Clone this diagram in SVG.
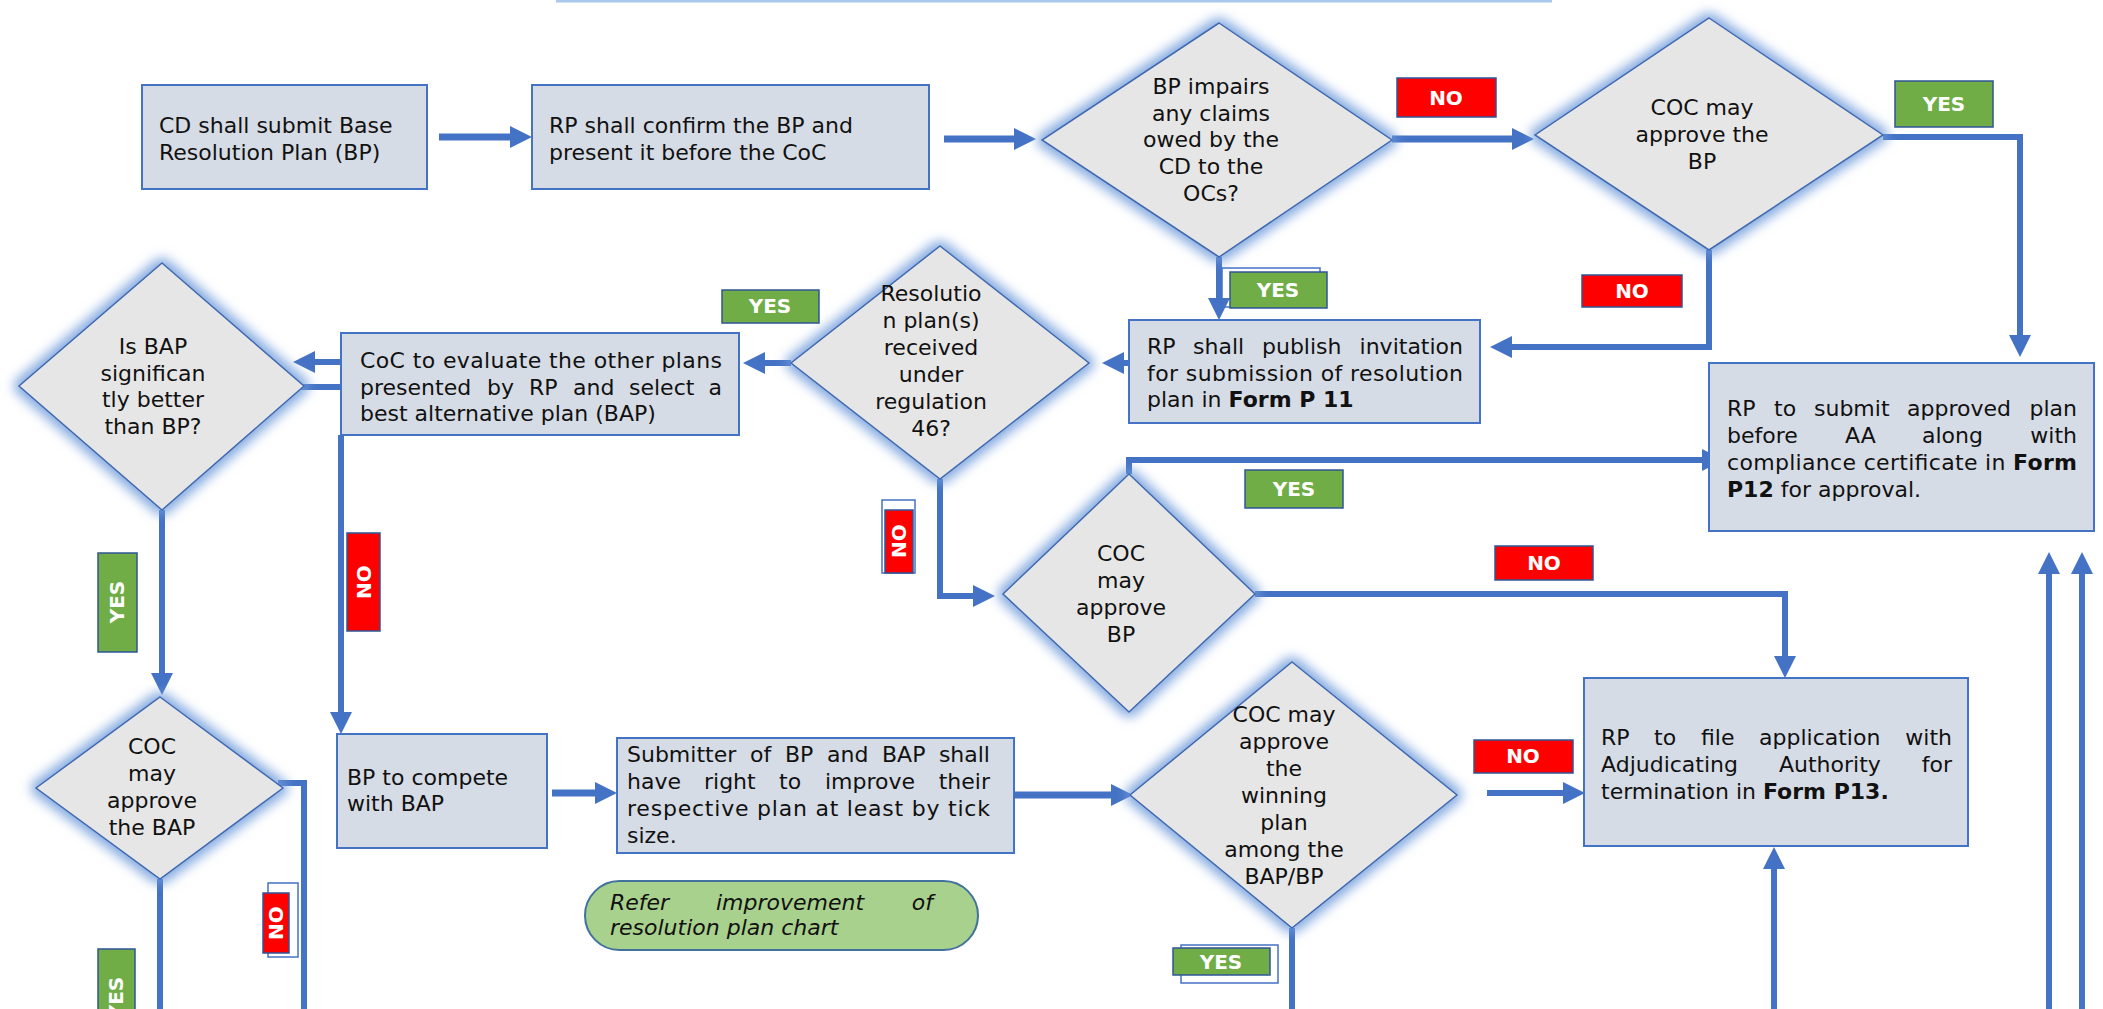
<svg xmlns="http://www.w3.org/2000/svg" width="2103" height="1009" viewBox="0 0 2103 1009">
<style>
.box{fill:#D6DCE5;stroke:#4472C4;stroke-width:2}
.dia{fill:#E7E6E6;stroke:#3F69B0;stroke-width:1.5}
.t{font-family:'DejaVu Sans',Verdana,sans-serif;font-size:22px;fill:#111}
.c{text-anchor:middle}
.e{text-anchor:end}
.b{font-weight:bold}
.i{font-style:italic}
.conn{fill:none;stroke:#4472C4;stroke-width:6}
.thick{stroke-width:7}
.arr{marker-end:url(#ah)}
.no{fill:#FF0000;stroke:#2F5597;stroke-width:1.5}
.yes{fill:#70AD47;stroke:#2F5597;stroke-width:1.5}
.ol{fill:none;stroke:#4472C4;stroke-width:1.5}
.lt{font-family:'DejaVu Sans',Verdana,sans-serif;font-size:20px;font-weight:bold;fill:#fff;text-anchor:middle}
</style>
<defs>
<marker id="ah" markerUnits="userSpaceOnUse" markerWidth="22" markerHeight="22" refX="0" refY="11" orient="auto" viewBox="0 0 22 22">
<path d="M0,0 L22,11 L0,22 z" fill="#4472C4"/>
</marker>
<filter id="glow" x="-25%" y="-25%" width="150%" height="150%">
<feMorphology in="SourceAlpha" operator="dilate" radius="4" result="d"/>
<feGaussianBlur in="d" stdDeviation="6" result="bl"/>
<feFlood flood-color="#6F9BDB" flood-opacity="0.85"/>
<feComposite in2="bl" operator="in" result="g"/>
<feMerge><feMergeNode in="g"/><feMergeNode in="SourceGraphic"/></feMerge>
</filter>
</defs>
<rect width="2103" height="1009" fill="#fff"/>
<line x1="556" y1="1" x2="1552" y2="1" stroke="#A9C8EC" stroke-width="3"/>

<g id="connectors">
<path class="conn thick arr" d="M439,137 L510,137"/>
<path class="conn thick arr" d="M944,139 L1014,139"/>
<path class="conn thick arr" d="M1392,139 L1512,139"/>
<path class="conn arr" d="M1883,137 H2020 V335"/>
<path class="conn arr" d="M1709,250 V347 H1512"/>
<path class="conn arr" d="M1219,257 V298"/>
<path class="conn arr" d="M1130,363 L1124,363"/>
<path class="conn arr" d="M791,363 L765,363"/>
<path class="conn arr" d="M341,362 L315,362"/>
<path class="conn" d="M341,387 L300,387"/>
<path class="conn arr" d="M162,510 V673"/>
<path class="conn arr" d="M341,435 V712"/>
<path class="conn" d="M278,783 H304 V1012"/>
<path class="conn" d="M160,879 V1012"/>
<path class="conn thick arr" d="M552,793 L595,793"/>
<path class="conn thick arr" d="M1014,795 L1111,795"/>
<path class="conn" d="M1292,928 V1012"/>
<path class="conn arr" d="M1487,793 L1563,793"/>
<path class="conn arr" d="M1255,594 H1785 V656"/>
<path class="conn arr" d="M1774,1012 V869"/>
<path class="conn arr" d="M2049,1012 V574"/>
<path class="conn arr" d="M2082,1012 V574"/>
<path class="conn arr" d="M940,479 V596 H973"/>
<path class="conn arr" d="M1129,474 V460 H1702"/>
</g>

<g id="n-submit-bp">
<rect class="box" x="142" y="85" width="285" height="104"/>
<text class="t" x="159" y="133">CD shall submit Base</text>
<text class="t" x="159" y="160">Resolution Plan (BP)</text>
</g>

<g id="n-confirm-bp">
<rect class="box" x="532" y="85" width="397" height="104"/>
<text class="t" x="549" y="133">RP shall confirm the BP and</text>
<text class="t" x="549" y="160">present it before the CoC</text>
</g>

<g id="d-impairs">
<polygon class="dia" filter="url(#glow)" points="1219,23 1392,140 1219,257 1042,140"/>
<text class="t c" x="1211" y="94">BP impairs</text>
<text class="t c" x="1211" y="121">any claims</text>
<text class="t c" x="1211" y="147">owed by the</text>
<text class="t c" x="1211" y="174">CD to the</text>
<text class="t c" x="1211" y="201">OCs?</text>
</g>

<g id="d-approve-bp-1">
<polygon class="dia" filter="url(#glow)" points="1709,18 1883,135 1709,250 1535,135"/>
<text class="t c" x="1702" y="115">COC may</text>
<text class="t c" x="1702" y="142">approve the</text>
<text class="t c" x="1702" y="169">BP</text>
</g>

<g id="n-publish">
<rect class="box" x="1129" y="320" width="351" height="103"/>
<text class="t" x="1147" y="354">RP</text>
<text class="t" x="1193" y="354">shall</text>
<text class="t" x="1262" y="354">publish</text>
<text class="t e" x="1463" y="354">invitation</text>
<text class="t" x="1147" y="381" textLength="316" lengthAdjust="spacing">for submission of resolution</text>
<text class="t" x="1147" y="407">plan in <tspan class="b">Form P 11</tspan></text>
</g>

<g id="d-received">
<polygon class="dia" filter="url(#glow)" points="940,246 1089,363 940,479 791,363"/>
<text class="t c" x="931" y="301">Resolutio</text>
<text class="t c" x="931" y="328">n plan(s)</text>
<text class="t c" x="931" y="355">received</text>
<text class="t c" x="931" y="382">under</text>
<text class="t c" x="931" y="409">regulation</text>
<text class="t c" x="931" y="436">46?</text>
</g>

<g id="n-evaluate">
<rect class="box" x="341" y="333" width="398" height="102"/>
<text class="t" x="360" y="368" textLength="362" lengthAdjust="spacing">CoC to evaluate the other plans</text>
<text class="t" x="360" y="395">presented</text>
<text class="t" x="487" y="395">by</text>
<text class="t" x="529" y="395">RP</text>
<text class="t" x="573" y="395">and</text>
<text class="t" x="629" y="395">select</text>
<text class="t e" x="722" y="395">a</text>
<text class="t" x="360" y="421">best alternative plan (BAP)</text>
</g>

<g id="d-significant">
<polygon class="dia" filter="url(#glow)" points="162,263 304,386 162,510 19,386"/>
<text class="t c" x="153" y="354">Is BAP</text>
<text class="t c" x="153" y="381">significan</text>
<text class="t c" x="153" y="407">tly better</text>
<text class="t c" x="153" y="434">than BP?</text>
</g>

<g id="d-approve-bap">
<polygon class="dia" filter="url(#glow)" points="160,697 283,788 160,879 36,788"/>
<text class="t c" x="152" y="754">COC</text>
<text class="t c" x="152" y="781">may</text>
<text class="t c" x="152" y="808">approve</text>
<text class="t c" x="152" y="835">the BAP</text>
</g>

<g id="n-compete">
<rect class="box" x="337" y="734" width="210" height="114"/>
<text class="t" x="347" y="785">BP to compete</text>
<text class="t" x="347" y="811">with BAP</text>
</g>

<g id="n-improve">
<rect class="box" x="617" y="738" width="397" height="115"/>
<text class="t" x="627" y="762">Submitter</text>
<text class="t" x="750" y="762">of</text>
<text class="t" x="785" y="762">BP</text>
<text class="t" x="827" y="762">and</text>
<text class="t" x="882" y="762">BAP</text>
<text class="t e" x="990" y="762">shall</text>
<text class="t" x="627" y="789">have</text>
<text class="t" x="704" y="789">right</text>
<text class="t" x="779" y="789">to</text>
<text class="t" x="825" y="789">improve</text>
<text class="t e" x="990" y="789">their</text>
<text class="t" x="627" y="816" textLength="363" lengthAdjust="spacing">respective plan at least by tick</text>
<text class="t" x="627" y="843">size.</text>
</g>

<g id="n-refer">
<rect x="585" y="881" width="393" height="69" rx="34.5" fill="#A9D18E" stroke="#41719C" stroke-width="2"/>
<text class="t i" x="610" y="910">Refer</text>
<text class="t i" x="716" y="910">improvement</text>
<text class="t i e" x="933" y="910">of</text>
<text class="t i" x="610" y="935">resolution plan chart</text>
</g>

<g id="d-winning">
<polygon class="dia" filter="url(#glow)" points="1292,662 1457,795 1292,928 1130,795"/>
<text class="t c" x="1284" y="722">COC may</text>
<text class="t c" x="1284" y="749">approve</text>
<text class="t c" x="1284" y="776">the</text>
<text class="t c" x="1284" y="803">winning</text>
<text class="t c" x="1284" y="830">plan</text>
<text class="t c" x="1284" y="857">among the</text>
<text class="t c" x="1284" y="884">BAP/BP</text>
</g>

<g id="d-approve-bp-2">
<polygon class="dia" filter="url(#glow)" points="1129,474 1255,594 1129,712 1003,594"/>
<text class="t c" x="1121" y="561">COC</text>
<text class="t c" x="1121" y="588">may</text>
<text class="t c" x="1121" y="615">approve</text>
<text class="t c" x="1121" y="642">BP</text>
</g>

<g id="n-submit-aa">
<rect class="box" x="1709" y="363" width="385" height="168"/>
<text class="t" x="1727" y="416">RP</text>
<text class="t" x="1774" y="416">to</text>
<text class="t" x="1814" y="416">submit</text>
<text class="t" x="1907" y="416">approved</text>
<text class="t e" x="2077" y="416">plan</text>
<text class="t" x="1727" y="443">before</text>
<text class="t" x="1845" y="443">AA</text>
<text class="t" x="1922" y="443">along</text>
<text class="t e" x="2077" y="443">with</text>
<text class="t" x="1727" y="470" textLength="350" lengthAdjust="spacing">compliance certificate in <tspan class="b">Form</tspan></text>
<text class="t" x="1727" y="497"><tspan class="b">P12</tspan> for approval.</text>
</g>

<g id="n-terminate">
<rect class="box" x="1584" y="678" width="384" height="168"/>
<text class="t" x="1601" y="745">RP</text>
<text class="t" x="1654" y="745">to</text>
<text class="t" x="1701" y="745">file</text>
<text class="t" x="1759" y="745">application</text>
<text class="t e" x="1952" y="745">with</text>
<text class="t" x="1601" y="772">Adjudicating</text>
<text class="t" x="1779" y="772">Authority</text>
<text class="t e" x="1952" y="772">for</text>
<text class="t" x="1601" y="799">termination in <tspan class="b">Form P13.</tspan></text>
</g>

<g id="labels">
<rect class="no" x="1397" y="78" width="99" height="39"/>
<text class="lt" x="1446" y="105">NO</text>
<rect class="yes" x="1895" y="81" width="98" height="46"/>
<text class="lt" x="1944" y="111">YES</text>
<rect class="ol" x="1222" y="268" width="98" height="39"/>
<rect class="yes" x="1230" y="272" width="97" height="36"/>
<text class="lt" x="1278" y="297">YES</text>
<rect class="no" x="1582" y="275" width="100" height="32"/>
<text class="lt" x="1632" y="298">NO</text>
<rect class="yes" x="722" y="290" width="97" height="33"/>
<text class="lt" x="770" y="313">YES</text>
<rect class="yes" x="1245" y="470" width="98" height="38"/>
<text class="lt" x="1294" y="496">YES</text>
<rect class="no" x="1495" y="546" width="98" height="34"/>
<text class="lt" x="1544" y="570">NO</text>
<rect class="no" x="1474" y="740" width="99" height="33"/>
<text class="lt" x="1523" y="763">NO</text>
<rect class="ol" x="1181" y="945" width="97" height="38"/>
<rect class="yes" x="1173" y="948" width="97" height="27"/>
<text class="lt" x="1221" y="969">YES</text>
<rect class="yes" x="98" y="553" width="39" height="99"/>
<text class="lt" transform="translate(117,602) rotate(-90)" y="7">YES</text>
<rect class="no" x="347" y="533" width="33" height="98"/>
<text class="lt" transform="translate(364,582) rotate(-90)" y="7">NO</text>
<rect class="ol" x="882" y="500" width="33" height="73"/>
<rect class="no" x="885" y="510" width="28" height="63"/>
<text class="lt" transform="translate(899,541) rotate(-90)" y="7">NO</text>
<rect class="ol" x="268" y="883" width="30" height="74"/>
<rect class="no" x="263" y="893" width="26" height="60"/>
<text class="lt" transform="translate(276,923) rotate(-90)" y="7">NO</text>
<rect class="yes" x="98" y="949" width="37" height="99"/>
<text class="lt" transform="translate(116,998) rotate(-90)" y="7">YES</text>
</g>
</svg>
